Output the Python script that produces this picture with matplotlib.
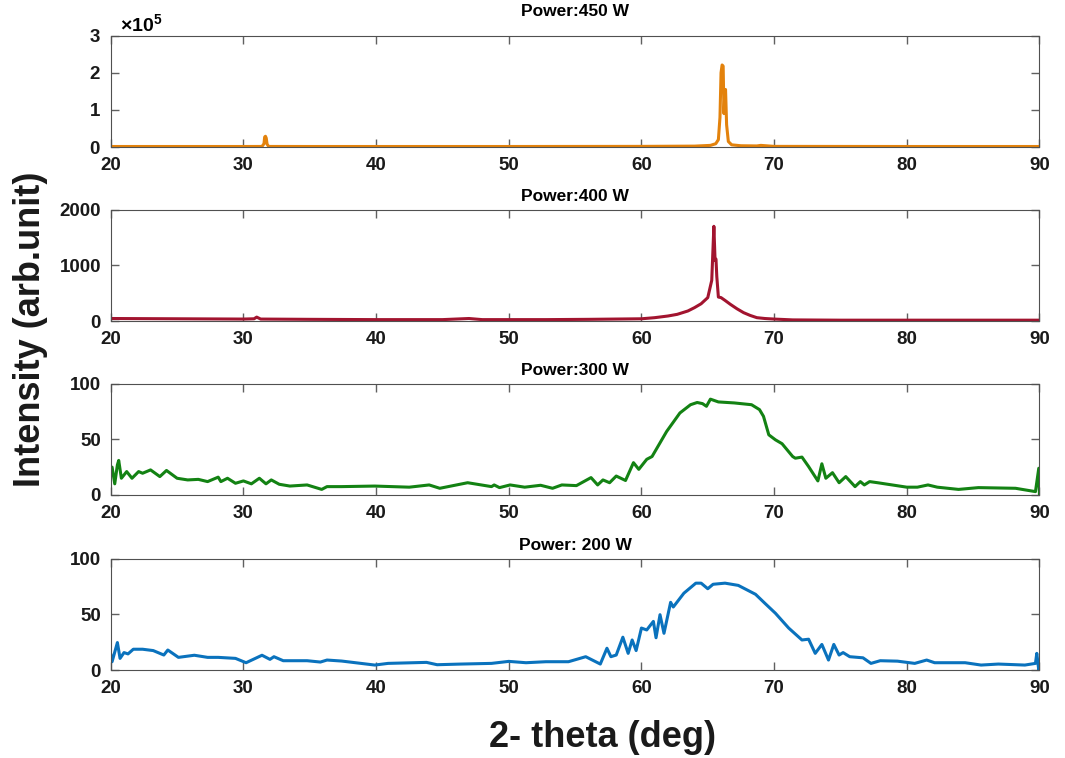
import numpy as np
import matplotlib.pyplot as plt

plt.rcParams['font.family'] = ['Liberation Sans', 'DejaVu Sans']
plt.rcParams['font.weight'] = 'bold'
plt.rcParams['mathtext.default'] = 'regular'

# Power: 450 W
x450 = [20, 25, 30, 31.4, 31.55, 31.6, 31.66, 31.72, 31.78, 31.9, 35, 40, 50, 60, 64, 65.2, 65.6,
        65.8, 65.92, 66.0, 66.08, 66.16, 66.22, 66.28, 66.34, 66.42, 66.55, 66.8, 67.5, 68.7, 69.0, 70, 80, 90]
y450 = [1500, 1500, 1500, 1600, 9000, 27000, 29000, 24000, 8000, 1600, 1500, 1500, 1500, 1800, 2500, 4500, 9000,
        20000, 80000, 200000, 221000, 218000, 90000, 140000, 155000, 60000, 15000, 6000, 3500, 3000, 4500, 1800, 1500, 1500]

# Power: 400 W
x400 = [20, 25, 30, 30.8, 31.0, 31.3, 35, 40, 45, 47, 48, 52.8, 56, 60, 61, 62, 62.7, 63.5, 64, 64.5,
        65.0, 65.3, 65.46, 65.55, 65.62, 65.68, 65.8, 66.0, 66.3, 66.7, 67.2, 67.7, 68.2, 68.7, 69.3,
        70, 71.4, 75, 80, 90]
y400 = [45, 40, 35, 40, 70, 35, 30, 25, 25, 45, 25, 25, 30, 40, 60, 90, 120, 180, 240, 310,
        420, 730, 1700, 1090, 1110, 800, 430, 420, 370, 300, 220, 150, 100, 60, 45,
        35, 20, 15, 15, 15]

# Power: 300 W
x300 = [19.9, 20.1, 20.3, 20.5, 20.6, 20.8, 21.2, 21.6, 22.1, 22.4, 23.0, 23.7, 24.2, 25.0, 25.8,
        26.6, 27.3, 28.1, 28.3, 28.8, 29.4, 30.0, 30.6, 31.2, 31.7, 32.1, 32.7, 33.5, 34.8, 35.9,
        36.3, 37.4, 39.9, 42.5, 44.0, 44.8, 46.9, 48.7, 48.9, 49.3, 50.1, 51.2, 52.4, 53.3, 54.0,
        55.1, 56.2, 56.7, 57.1, 57.6, 58.1, 58.8, 59.4, 59.8, 60.4, 60.8, 61.9, 62.9, 63.7, 64.2,
        64.6, 64.9, 65.2, 65.8, 67.0, 68.3, 68.9, 69.2, 69.6, 70.1, 70.6, 71.4, 71.6, 72.1, 72.6,
        73.3, 73.6, 73.9, 74.4, 74.9, 75.4, 76.1, 76.5, 76.8, 77.2, 77.8, 80.0, 80.8, 81.6, 82.3,
        83.9, 85.4, 88.2, 89.7, 89.95, 90]
y300 = [12, 25, 10, 27, 31, 15, 21, 15, 21, 19.5, 22.5, 16.5, 22, 15, 13.5,
        14, 12, 16, 12, 15, 10.5, 12.6, 10, 15, 10, 13.5, 9.6, 8, 9, 5,
        7.5, 7.5, 8, 7, 9, 6, 11, 7.5, 9, 6.6, 9, 7, 8.7, 6, 9,
        8.4, 15.6, 9, 13.5, 11, 17, 13, 29, 23, 32, 34.5, 57, 73.6, 81, 83,
        82, 79.6, 86, 83.5, 82.6, 81, 76.6, 70.6, 54, 49.5, 46, 34.5, 33, 34, 25.5,
        12.6, 28, 15, 20, 11, 16.5, 7.5, 12, 9, 12, 11, 7, 7, 9, 7,
        5, 6.6, 6, 3, 24, 0]

# Power: 200 W
x200 = [19.9, 20.1, 20.5, 20.7, 21.0, 21.3, 21.7, 22.4, 23.2, 24.0, 24.3, 25.1, 26.3, 27.3, 28.1,
        29.4, 30.2, 31.4, 32.0, 32.3, 33.0, 34.8, 35.8, 36.3, 37.4, 39.9, 40.9, 43.8, 44.6, 46.4,
        48.7, 50.0, 51.3, 52.8, 54.5, 55.8, 56.9, 57.4, 57.7, 58.1, 58.6, 59.0, 59.3, 59.6, 60.0,
        60.4, 60.9, 61.1, 61.4, 61.7, 62.2, 62.4, 63.2, 64.1, 64.5, 65.0, 65.4, 66.3, 67.3, 68.6,
        69.3, 70.1, 71.1, 72.1, 72.6, 73.1, 73.6, 74.1, 74.5, 74.9, 75.2, 75.7, 76.7, 77.3, 78.0,
        79.3, 80.6, 81.5, 82.1, 84.4, 85.6, 86.9, 88.9, 89.7, 89.8, 89.95, 90]
y200 = [20.5, 7.5, 24.7, 10.5, 15.7, 14.5, 18.7, 18.7, 17.5, 13.5, 18, 11.4, 13.3, 11.4, 11.4,
        10.5, 6.6, 13.3, 9.6, 12, 8.4, 8.4, 7.2, 9, 8.1, 4.5, 6, 6.9, 4.8, 5.4,
        6, 7.8, 6.6, 7.5, 7.5, 12, 5.4, 19.6, 12, 13.5, 29.5, 15, 27, 17.5, 37.7,
        36, 43.7, 29, 49.7, 33, 60.8, 56.6, 69, 78, 78, 73, 77, 78, 76, 68,
        60, 51, 37.7, 27, 27.7, 15, 23, 9, 23, 13.5, 15.7, 12, 11, 6, 8.4,
        8, 6, 9, 6.6, 6.6, 4.5, 5.4, 4.5, 6, 15, 0, 6]

titles = ['Power:450 W', 'Power:400 W', 'Power:300 W', 'Power: 200 W']
series = [(x450, y450), (x400, y400), (x300, y300), (x200, y200)]
colors = ['#E3820C', '#A2142F', '#138213', '#0A72BD']
ylims = [(0, 300000), (0, 2000), (0, 100), (0, 100)]
yticks = [[0, 100000, 200000, 300000], [0, 1000, 2000], [0, 50, 100], [0, 50, 100]]
bottoms = [0.806, 0.5765, 0.347, 0.116]

fig = plt.figure(figsize=(10.65, 7.58), dpi=100)
for i in range(4):
    ax = fig.add_axes([0.104, bottoms[i], 0.872, 0.147])
    xs, ys = series[i]
    ax.plot(xs, ys, color=colors[i], lw=2.2)
    ax.set_xlim(20, 90)
    ax.set_ylim(*ylims[i])
    ax.set_xticks([20, 30, 40, 50, 60, 70, 80, 90])
    ax.set_yticks(yticks[i])
    ax.tick_params(direction='in', top=True, right=True, length=6, width=1,
                   color='#606060', labelsize=13.5, pad=7)
    for sp in ax.spines.values():
        sp.set_color('#505050')
    for lab in ax.get_xticklabels() + ax.get_yticklabels():
        lab.set_fontweight('bold')
        lab.set_color('#1a1a1a')
    ax.set_title(titles[i], fontsize=12.5, fontweight='bold', pad=14 if i == 0 else 6)
    if i == 0:
        ax.ticklabel_format(axis='y', style='sci', scilimits=(0, 0), useMathText=True)
        ax.yaxis.get_offset_text().set_fontsize(14)
        ax.yaxis.get_offset_text().set_x(0.01)

fig.text(0.029, 0.565, 'Intensity (arb.unit)', rotation=90, fontsize=26,
         fontweight='bold', color='#1a1a1a', ha='center', va='center')
fig.text(0.566, 0.027, '2- theta (deg)', fontsize=26, fontweight='bold',
         color='#1a1a1a', ha='center', va='center')

fig.savefig('out.png', dpi=100)
